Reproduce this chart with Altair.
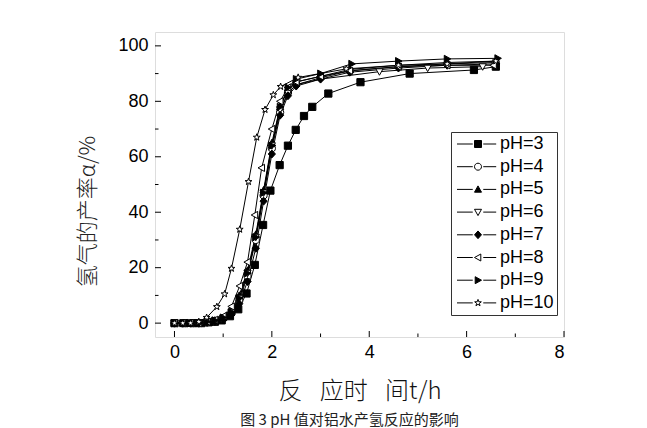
import altair as alt
import pandas as pd

# ---------------- data ----------------
labels = ["pH=3", "pH=4", "pH=5", "pH=6", "pH=7", "pH=8", "pH=9", "pH=10"]

t_ph3 = [0, 0.2, 0.4, 0.55, 0.7, 0.83, 0.97, 1.14, 1.31, 1.48, 1.65, 1.82, 1.97, 2.16, 2.33, 2.49, 2.66, 2.83, 3.16, 3.82, 4.83, 6.15, 6.6]
v_ph3 = [0, 0, 0, 0, 0.3, 0.5, 1, 2.5, 5, 10.7, 21, 35.4, 47.8, 57, 64, 69.7, 74.7, 78, 82.8, 86.9, 90, 91.3, 92.5]

t_ph4 = [0, 0.17, 0.33, 0.5, 0.67, 0.83, 1.0, 1.17, 1.33, 1.5, 1.67, 1.83, 2.0, 2.17, 2.33, 2.5, 3.0, 3.6, 4.6, 5.6, 6.6]
v_ph4 = [0, 0, 0, 0, 0.3, 0.8, 1.5, 3.5, 8, 17, 30, 46, 63, 76, 83, 86, 88.5, 91, 92.5, 93.5, 94]

t_ph5 = [0, 0.17, 0.33, 0.5, 0.67, 0.83, 1.0, 1.17, 1.33, 1.5, 1.67, 1.83, 2.0, 2.17, 2.33, 2.5, 3.0, 3.6, 4.6, 5.6, 6.6]
v_ph5 = [0, 0, 0, 0, 0.5, 1, 2, 4.5, 10, 19, 32, 48, 65, 78, 84, 87, 89, 91.5, 93, 94, 94.5]

t_ph6 = [0, 0.17, 0.33, 0.5, 0.67, 0.83, 1.0, 1.17, 1.33, 1.5, 1.67, 1.83, 2.0, 2.17, 2.33, 2.5, 3.0, 4.21, 5.2, 6.33]
v_ph6 = [0, 0, 0, 0, 0.4, 0.9, 1.8, 4, 9, 18, 31, 47, 64, 77, 83, 86, 88, 90.7, 92, 92.5]

t_ph7 = [0, 0.17, 0.33, 0.5, 0.67, 0.83, 1.0, 1.17, 1.33, 1.5, 1.67, 1.83, 2.0, 2.17, 2.33, 2.5, 3.0, 3.6, 4.6, 5.6, 6.6]
v_ph7 = [0, 0, 0, 0, 0.3, 0.6, 1.2, 3, 7, 15, 27, 44, 61, 75, 82, 85.5, 88, 90.5, 92, 93, 93.5]

t_ph8 = [0, 0.17, 0.33, 0.5, 0.67, 0.83, 1.0, 1.17, 1.34, 1.5, 1.65, 1.79, 2.0, 2.17, 2.33, 2.5, 3.0, 3.6, 4.6, 5.6, 6.55]
v_ph8 = [0, 0, 0, 0, 0.5, 1.2, 2.5, 6, 13.4, 22, 39, 56, 70, 80, 85, 87, 89, 91, 92.5, 93, 93]

t_ph9 = [0, 0.17, 0.33, 0.5, 0.67, 0.83, 1.0, 1.17, 1.33, 1.5, 1.67, 1.83, 2.0, 2.17, 2.33, 2.5, 3.0, 3.64, 4.6, 5.6, 6.64]
v_ph9 = [0, 0, 0, 0, 0.5, 1, 2, 4, 9, 18, 31, 47, 64, 78, 85, 88, 90, 93.5, 94.5, 95.3, 95.5]

t_ph10 = [0, 0.17, 0.33, 0.5, 0.66, 0.87, 1.03, 1.17, 1.34, 1.52, 1.69, 1.86, 2.03, 2.18, 2.54, 3.53, 4.6, 5.6, 6.6]
v_ph10 = [0, 0, 0, 0.5, 2, 5.9, 10.5, 19.7, 33.8, 51, 67, 77, 82.3, 85.3, 88.6, 91.7, 93, 93.5, 94.5]

x_major = [0, 2, 4, 6, 8]
x_minor = [1, 3, 5, 7]
y_major = [0, 20, 40, 60, 80, 100]
y_minor = [10, 30, 50, 70, 90]

series = [
    ("pH=3", t_ph3, v_ph3), ("pH=4", t_ph4, v_ph4), ("pH=5", t_ph5, v_ph5),
    ("pH=6", t_ph6, v_ph6), ("pH=7", t_ph7, v_ph7), ("pH=8", t_ph8, v_ph8),
    ("pH=9", t_ph9, v_ph9), ("pH=10", t_ph10, v_ph10),
]
rows = []
for name, ts, vs in series:
    for t, v in zip(ts, vs):
        rows.append({"ph": name, "t": t, "v": v})
df = pd.DataFrame(rows)

# ---------------- marker styles ----------------
star = ("M0,-1L0.235,-0.324L0.951,-0.309L0.38,0.124L0.588,0.809L0,0.4"
        "L-0.588,0.809L-0.38,0.124L-0.951,-0.309L-0.235,-0.324Z")
markers = [
    "M-1,-1H1V1H-1Z",
    "M1,0A1,1 0 1,1 -1,0A1,1 0 1,1 1,0Z",
    "M0,-1L1,0.8H-1Z",
    "M0,1L1,-0.8H-1Z",
    "M0,-1.1L1,0L0,1.1L-1,0Z",
    "M-1,0L0.8,-1V1Z",
    "M1,0L-0.8,-1V1Z",
    star,
]
fills = ["black", "white", "black", "white", "black", "white", "black", "white"]
strokes = ["black"] * 8
legend_syms = ["M-6,0H-1.5M1.5,0H5.2" + m for m in markers]

W, H = 409, 305
xs = alt.Scale(domain=[-0.4, 8], nice=False, zero=False)
ys = alt.Scale(domain=[-5, 105], nice=False, zero=False)

x_enc = alt.X("t:Q", scale=xs, axis=alt.Axis(
    values=x_major, ticks=False, domain=False, grid=False,
    labelFont="Liberation Sans", labelFontSize=18, labelColor="black", labelPadding=6,
    title="反\u2002\u00a0应时\u2002\u00a0间t/h", titleFont="Noto Sans CJK SC", titleFontSize=24,
    titleFontWeight=300, titleColor="#111", titlePadding=18))
y_enc = alt.Y("v:Q", scale=ys, axis=alt.Axis(
    values=y_major, ticks=False, domain=False, grid=False,
    labelFont="Liberation Sans", labelFontSize=18, labelColor="black", labelPadding=7,
    title="氢气的产率α/%", titleFont="Noto Sans CJK SC", titleFontSize=22,
    titleFontWeight=300, titleColor="#222", titlePadding=18, titleY=179))

leg_common = dict(title=None, orient="none", legendX=296, legendY=100)

base = alt.Chart(df)
lines = base.mark_line(color="black", strokeWidth=1).encode(x=x_enc, y=y_enc, detail="ph:N")
points = base.mark_point(size=52, strokeWidth=1, stroke="black", opacity=1, filled=False).encode(
    x="t:Q", y="v:Q",
    shape=alt.Shape("ph:N", scale=alt.Scale(domain=labels, range=markers), legend=None),
    fill=alt.Fill("ph:N", scale=alt.Scale(domain=labels, range=fills), legend=None),
)
legend_layer = base.transform_filter("false").mark_point(size=49, filled=False).encode(
    x="t:Q", y="v:Q",
    shape=alt.Shape("ph:N", scale=alt.Scale(domain=labels, range=legend_syms),
                    legend=alt.Legend(**leg_common,
                                      strokeColor="#333", fillColor="white", padding=3,
                                      symbolOffset=15, labelOffset=13, rowPadding=4.7,
                                      symbolSize=49, symbolStrokeColor="black", symbolStrokeWidth=1,
                                      symbolOpacity=1,
                                      labelFont="Liberation Sans", labelFontSize=18,
                                      labelColor="black")),
    fill=alt.Fill("ph:N", scale=alt.Scale(domain=labels, range=fills),
                  legend=alt.Legend(**leg_common)),
    stroke=alt.Stroke("ph:N", scale=alt.Scale(domain=labels, range=strokes),
                      legend=alt.Legend(**leg_common)),
)

xt_major = alt.Chart(pd.DataFrame({"t": x_major})).mark_rule(color="black").encode(
    x="t:Q", y=alt.value(H), y2=alt.value(H - 6))
xt_minor = alt.Chart(pd.DataFrame({"t": x_minor})).mark_rule(color="black").encode(
    x="t:Q", y=alt.value(H), y2=alt.value(H - 3.5))
yt_major = alt.Chart(pd.DataFrame({"v": y_major})).mark_rule(color="black").encode(
    y="v:Q", x=alt.value(0), x2=alt.value(6))
yt_minor = alt.Chart(pd.DataFrame({"v": y_minor})).mark_rule(color="black").encode(
    y="v:Q", x=alt.value(0), x2=alt.value(3.5))

chart = alt.layer(lines, xt_major, xt_minor, yt_major, yt_minor, points, legend_layer).resolve_scale(
    shape="independent", fill="independent", stroke="independent"
).properties(
    width=W, height=H,
    padding={"left": 68, "top": 24, "right": 5, "bottom": 5},
    title=alt.TitleParams("图 3 pH 值对铝水产氢反应的影响", orient="bottom", anchor="middle",
                          font="Noto Sans CJK SC", fontSize=15, fontWeight="normal",
                          color="#222", offset=10, dx=-10),
).configure_view(stroke="#444", strokeWidth=1).configure(background="white")

chart.save("out.html", embed_options={"renderer": "svg", "actions": False})
